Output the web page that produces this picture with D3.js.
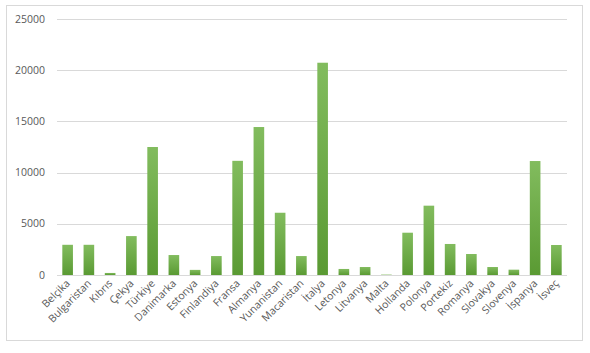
<!DOCTYPE html>
<html>
<head>
<meta charset="utf-8">
<script src="https://cdn.jsdelivr.net/npm/d3@7"></script>
<style>
  body { margin: 0; background: #fff; }
  svg text { font-family: "Open Sans", "Liberation Sans", sans-serif; fill: #595959; }
</style>
</head>
<body>
<svg id="svg" width="590" height="353"></svg>
<script>
const countries = ['Belçika', 'Bulgaristan', 'Kıbrıs', 'Çekya', 'Türkiye', 'Danimarka', 'Estonya',
  'Finlandiya', 'Fransa', 'Almanya', 'Yunanistan', 'Macaristan', 'İtalya', 'Letonya', 'Litvanya',
  'Malta', 'Hollanda', 'Polonya', 'Portekiz', 'Romanya', 'Slovakya', 'Slovenya', 'İspanya', 'İsveç']
const values = [2950, 2950, 200, 3800, 12500, 1950, 500,
  1850, 11150, 14450, 6080, 1850, 20730, 590, 780,
  40, 4130, 6770, 3030, 2050, 780, 520, 11130, 2930]
const yTicks = [0, 5000, 10000, 15000, 20000, 25000]

const $svg = d3.select('#svg')
const margin = { left: 57, right: 23, top: 19, bottom: 78 }
const width = 590, height = 353

const defs = $svg.append('defs')
const grad = defs.append('linearGradient')
  .attr('id', 'barGrad')
  .attr('x1', 0).attr('y1', 0).attr('x2', 0).attr('y2', 1)
grad.append('stop').attr('offset', '0%').attr('stop-color', '#82bc5e')
grad.append('stop').attr('offset', '100%').attr('stop-color', '#5a9a33')

// chart border
$svg.append('rect')
  .attr('x', 6.5).attr('y', 5.5)
  .attr('width', 576).attr('height', 335)
  .attr('fill', 'none')
  .attr('stroke', '#d9d9d9')

const x = d3.scaleBand()
  .domain(countries)
  .range([margin.left, width - margin.right])
  .paddingInner(0.5)
  .paddingOuter(0.25)

const y = d3.scaleLinear()
  .domain([0, 25000])
  .range([275, margin.top])

// gridlines
$svg.append('g')
  .selectAll('line')
  .data(yTicks)
  .join('line')
  .attr('x1', margin.left)
  .attr('x2', width - margin.right)
  .attr('y1', d => Math.round(y(d)) + 0.5)
  .attr('y2', d => Math.round(y(d)) + 0.5)
  .attr('stroke', '#d9d9d9')

// y labels
$svg.append('g')
  .selectAll('text')
  .data(yTicks)
  .join('text')
  .attr('x', 45)
  .attr('y', d => y(d))
  .attr('dy', '0.35em')
  .attr('text-anchor', 'end')
  .attr('font-size', 10.5)
  .text(d => d)

// bars
$svg.append('g')
  .selectAll('rect')
  .data(values)
  .join('rect')
  .attr('x', (d, i) => x(countries[i]))
  .attr('y', d => y(d))
  .attr('width', x.bandwidth())
  .attr('height', d => y(0) - y(d))
  .attr('fill', 'url(#barGrad)')

// x labels
$svg.append('g')
  .selectAll('text')
  .data(countries)
  .join('text')
  .attr('text-anchor', 'end')
  .attr('font-size', 10.5)
  .attr('transform', d => `translate(${x(d) + x.bandwidth() / 2 + 3},${284}) rotate(-45)`)
  .text(d => d)
</script>
</body>
</html>
